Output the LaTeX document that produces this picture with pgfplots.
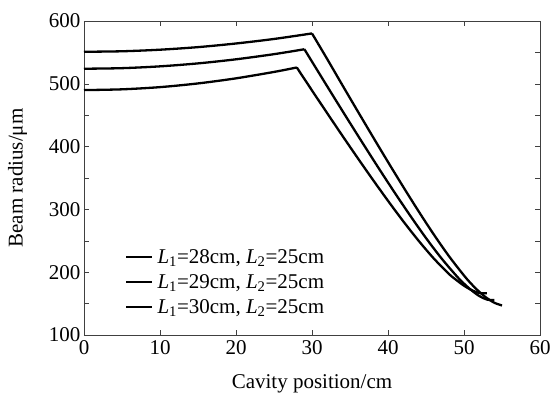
\documentclass[border=0pt]{standalone}
\usepackage{fontspec}
\setmainfont{Liberation Serif}
\usepackage{pgfplots}
\pgfplotsset{compat=1.18}
\begin{document}
\begin{tikzpicture}
\begin{axis}[
  name=ax,
  scale only axis,
  width=456pt, height=314pt,
  xmin=0, xmax=60, ymin=100, ymax=600,
  xtick={0,10,...,60},
  ytick={100,200,...,600},
  minor y tick num=1,
  tick align=inside,
  major tick length=5pt,
  minor tick length=5pt,
  axis line style={black!75, line width=0.6pt},
  every tick/.style={black!75, line width=0.6pt},
  /pgf/number format/assume math mode=true,
  tick label style={font=\fontsize{21}{24}\selectfont},
  xticklabel style={yshift=-2pt},
  label style={font=\fontsize{21}{24}\selectfont},
  xlabel={Cavity position/cm},
  xlabel style={yshift=-13pt},
  ylabel={Beam radius/μm},
  ylabel style={yshift=15pt},
  legend style={at={(0.09,0.058)}, anchor=south west, draw=none, fill=none,
    inner sep=0pt, font=\fontsize{21}{24}\selectfont,
    row sep=5.5pt},
  legend cell align=left,
  legend image code/.code={\draw[#1] (0pt,0pt) -- (26pt,0pt); \path (28pt,0pt);},
]
% L1 = 28 cm
\addplot[black, line width=2.3pt, smooth] coordinates {
 (0,490)(5,491.2)(10,494.7)(15,500.6)(20,508.7)(25,518.9)(28,526.0)};
\addlegendentry{\textit{L}\textsubscript{1}=28cm, \textit{L}\textsubscript{2}=25cm}
% L1 = 29 cm
\addplot[black, line width=2.3pt, smooth] coordinates {
 (0,524)(5,524.9)(10,527.8)(15,532.5)(20,539.0)(25,547.2)(29,555.0)};
\addlegendentry{\textit{L}\textsubscript{1}=29cm, \textit{L}\textsubscript{2}=25cm}
% L1 = 30 cm
\addplot[black, line width=2.3pt, smooth] coordinates {
 (0,551)(5,551.8)(10,554.3)(15,558.4)(20,564.2)(25,571.4)(30,580.2)};
\addlegendentry{\textit{L}\textsubscript{1}=30cm, \textit{L}\textsubscript{2}=25cm}
% descending parts
\addplot[black, line width=2.3pt, smooth, forget plot] coordinates {
 (28,526.0)(30,489.4)(32,453.2)(34,417.3)(36,382.0)(38,347.4)(40,313.7)(42,281.2)
 (44,250.5)(46,222.2)(48,197.4)(49,187.5)(50,178.5)(51,171.5)(52,167.0)(53,166.5)};
\addplot[black, line width=2.3pt, smooth, forget plot] coordinates {
 (29,555.0)(31,515.6)(33,476.4)(35,437.6)(37,399.2)(39,361.4)(41,324.5)(43,288.7)
 (45,254.4)(47,222.6)(49,194.2)(50,181.8)(51,171.0)(52,162.2)(53,156.5)(54,155.5)};
\addplot[black, line width=2.3pt, smooth, forget plot] coordinates {
 (30,580.2)(32,539.4)(34,497.8)(36,456.6)(38,415.8)(40,375.5)(42,336.0)(44,297.5)
 (46,260.5)(48,225.9)(50,194.7)(51,180.9)(52,168.9)(53,158.9)(54,151.3)(55,147.0)};
\end{axis}
\pgfresetboundingbox
\path ([shift={(-84pt,-61pt)}]ax.south west) rectangle ([shift={(15pt,21pt)}]ax.north east);
\end{tikzpicture}
\end{document}
